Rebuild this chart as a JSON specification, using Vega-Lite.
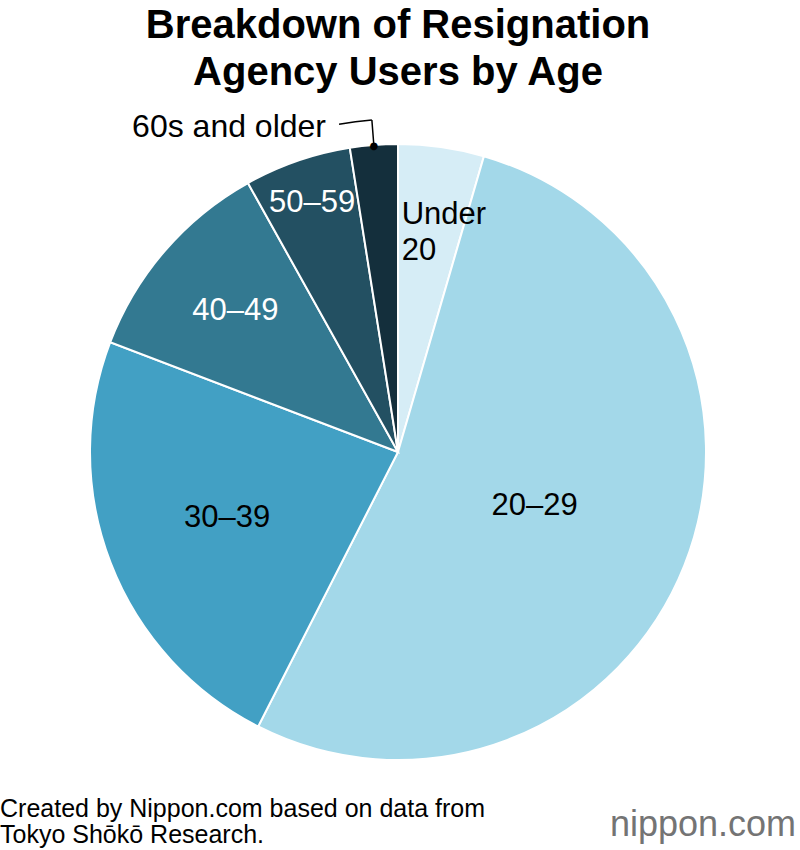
{
  "$schema": "https://vega.github.io/schema/vega-lite/v6.json",
  "padding": {"top": 6, "left": 0, "right": 4, "bottom": 0},
  "background": "white",
  "config": {"view": {"stroke": null}, "font": "Liberation Sans"},
  "title": {"text": "nippon.com", "orient": "bottom", "anchor": "end", "fontSize": 36, "font": "Liberation Sans", "fontWeight": "normal", "color": "#747474", "offset": 0, "dy": -40},
  "vconcat": [
    {
      "title": {"text": ["Created by Nippon.com based on data from", "Tokyo Shōkō Research."], "orient": "bottom", "anchor": "start", "fontSize": 25, "fontWeight": "normal", "lineHeight": 26, "offset": 9, "color": "black", "font": "Liberation Sans"},
      "vconcat": [
        {
          "title": {"text": ["Breakdown of Resignation", "Agency Users by Age"], "anchor": "middle", "fontSize": 40, "fontWeight": "bold", "lineHeight": 47, "offset": 18, "color": "black", "font": "Liberation Sans"},
          "width": 796,
          "height": 616,
          "data": {"values": [
            {"age": "Under 20", "order": 1, "share": 4.5},
            {"age": "20–29", "order": 2, "share": 53.0},
            {"age": "30–39", "order": 3, "share": 23.3},
            {"age": "40–49", "order": 4, "share": 11.1},
            {"age": "50–59", "order": 5, "share": 5.6},
            {"age": "60s and older", "order": 6, "share": 2.5}
          ]},
          "encoding": {
            "theta": {"field": "share", "type": "quantitative", "stack": true},
            "order": {"field": "order", "type": "quantitative"}
          },
          "layer": [
            {
              "mark": {"type": "arc", "stroke": "white", "strokeWidth": 2},
              "encoding": {
                "color": {"field": "age", "type": "nominal", "legend": null,
                  "scale": {"domain": ["Under 20", "20–29", "30–39", "40–49", "50–59", "60s and older"],
                            "range": ["#d6edf6", "#a3d8e9", "#42a0c4", "#337991", "#235062", "#142f3c"]}}
              }
            },
            {
              "mark": {"type": "arc", "radius": 333, "radius2": 307, "padAngle": 0.4, "fill": "transparent", "strokeWidth": 1.5},
              "encoding": {
                "stroke": {"condition": {"test": "datum.age === '60s and older'", "value": "black"}, "value": "transparent"}
              }
            },
            {
              "mark": {"type": "arc", "radius": 333.75, "radius2": 332.25, "thetaOffset": -0.0497, "padAngle": 0.0408, "fill": "black"},
              "encoding": {
                "opacity": {"condition": {"test": "datum.age === '60s and older'", "value": 1}, "value": 0}
              }
            },
            {
              "mark": {"type": "text", "radius": 307, "fontSize": 10, "font": "DejaVu Sans", "color": "black", "align": "center", "baseline": "middle"},
              "encoding": {
                "text": {"condition": {"test": "datum.age === '60s and older'", "value": "●"}, "value": ""}
              }
            },
            {
              "mark": {"type": "text", "radius": 331, "dx": -46, "dy": 5, "fontSize": 32, "color": "black", "align": "right", "baseline": "middle"},
              "encoding": {
                "text": {"condition": {"test": "datum.age === '60s and older'", "field": "age", "type": "nominal"}, "value": ""}
              }
            },
            {
              "mark": {"type": "text", "radius": 239, "dx": -30, "fontSize": 31, "color": "black", "align": "left", "baseline": "middle", "lineBreak": " ", "lineHeight": 36},
              "encoding": {
                "text": {"condition": {"test": "datum.age === 'Under 20'", "field": "age", "type": "nominal"}, "value": ""}
              }
            },
            {
              "mark": {"type": "text", "radius": 147, "fontSize": 31, "color": "black", "align": "center", "baseline": "middle"},
              "encoding": {
                "text": {"condition": {"test": "datum.age === '20–29'", "field": "age", "type": "nominal"}, "value": ""}
              }
            },
            {
              "mark": {"type": "text", "radius": 183, "fontSize": 31, "color": "black", "align": "center", "baseline": "middle"},
              "encoding": {
                "text": {"condition": {"test": "datum.age === '30–39'", "field": "age", "type": "nominal"}, "value": ""}
              }
            },
            {
              "mark": {"type": "text", "radius": 215, "fontSize": 31, "color": "white", "align": "center", "baseline": "middle"},
              "encoding": {
                "text": {"condition": {"test": "datum.age === '40–49'", "field": "age", "type": "nominal"}, "value": ""}
              }
            },
            {
              "mark": {"type": "text", "radius": 263, "fontSize": 31, "color": "white", "align": "center", "baseline": "middle"},
              "encoding": {
                "text": {"condition": {"test": "datum.age === '50–59'", "field": "age", "type": "nominal"}, "value": ""}
              }
            }
          ]
        }
      ]
    }
  ]
}
